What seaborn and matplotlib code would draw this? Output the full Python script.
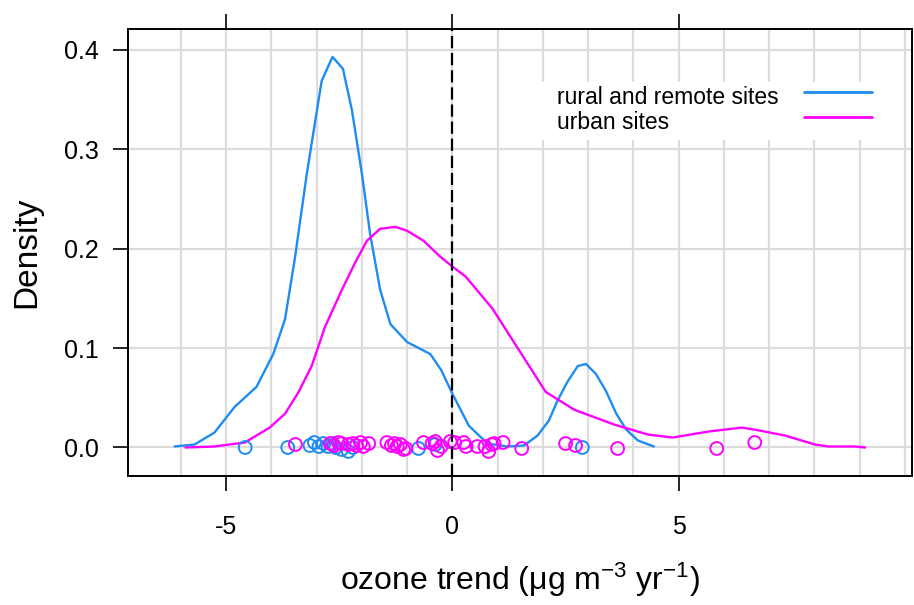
import matplotlib
matplotlib.use("Agg")
import matplotlib.pyplot as plt
from matplotlib.lines import Line2D
from matplotlib.patches import Rectangle
import pandas as pd
import seaborn as sns

# Kernel density estimates of the ozone trend (µg m-3 yr-1) for each site type
rural_x = [-6.14, -5.70, -5.26, -4.81, -4.33, -3.96, -3.70, -3.48, -3.22, -2.89,
           -2.65, -2.42, -2.22, -2.00, -1.82, -1.60, -1.37, -1.00, -0.49, -0.25,
           0.00, 0.36, 0.77, 1.21, 1.58, 1.88, 2.13, 2.32, 2.54, 2.77,
           2.95, 3.17, 3.39, 3.62, 3.84, 4.10, 4.45]
rural_density = [0.001, 0.003, 0.015, 0.041, 0.061, 0.094, 0.129, 0.191, 0.275, 0.369,
                 0.393, 0.381, 0.339, 0.275, 0.215, 0.159, 0.124, 0.106, 0.094, 0.078,
                 0.054, 0.022, 0.004, 0.001, 0.002, 0.012, 0.027, 0.047, 0.066, 0.082,
                 0.084, 0.074, 0.057, 0.034, 0.018, 0.007, 0.001]

urban_x = [-5.90, -5.26, -4.59, -4.04, -3.70, -3.41, -3.11, -2.82, -2.45, -2.15,
           -1.89, -1.60, -1.26, -1.00, -0.64, -0.27, 0.00, 0.29, 0.88, 1.47,
           2.06, 2.69, 3.58, 4.32, 4.87, 5.65, 6.39, 6.68, 7.35, 8.01,
           8.31, 8.90, 9.12]
urban_density = [0.000, 0.001, 0.005, 0.020, 0.034, 0.055, 0.082, 0.121, 0.158, 0.186,
                 0.208, 0.220, 0.222, 0.218, 0.208, 0.192, 0.182, 0.172, 0.140, 0.098,
                 0.056, 0.038, 0.023, 0.013, 0.010, 0.016, 0.020, 0.018, 0.012, 0.003,
                 0.001, 0.001, 0.000]

# Individual site trends, plotted near zero with a small vertical jitter
rural_sites = [-4.58, -3.64, -3.15, -3.05, -2.95, -2.85, -2.75, -2.65, -2.58, -2.45,
               -2.30, -2.20, -0.75, -0.38, 2.87]
rural_jitter = [0.000, 0.000, 0.002, 0.005, 0.001, 0.004, 0.001, 0.004, 0.000, -0.002,
                -0.004, 0.000, -0.001, 0.003, 0.000]

urban_sites = [-3.47, -2.70, -2.62, -2.52, -2.45, -2.30, -2.20, -2.12, -2.03, -1.97,
               -1.85, -1.45, -1.35, -1.28, -1.22, -1.15, -1.08, -1.03, -0.64, -0.45,
               -0.38, -0.33, -0.25, -0.05, 0.05, 0.25, 0.30, 0.55, 0.72, 0.80,
               0.87, 0.92, 1.12, 1.53, 2.50, 2.72, 3.65, 5.84, 6.68]
urban_jitter = [0.003, 0.004, 0.002, 0.005, 0.004, 0.003, 0.004, 0.002, 0.005, 0.001,
                0.004, 0.005, 0.002, 0.004, 0.001, 0.003, -0.002, -0.001, 0.005, 0.004,
                0.006, -0.003, 0.001, 0.006, 0.005, 0.005, 0.001, 0.001, 0.001, -0.004,
                0.003, 0.004, 0.005, -0.001, 0.004, 0.002, -0.001, -0.001, 0.005]

groups = ["rural and remote sites", "urban sites"]
colors = ["#1E8CF0", "#FF00FF"]

x_ticks = [-5, 0, 5]
y_ticks = [0.0, 0.1, 0.2, 0.3, 0.4]
y_tick_labels = ["0.0", "0.1", "0.2", "0.3", "0.4"]
x_label = "ozone trend (μg m$^{-3}$ yr$^{-1}$)"
y_label = "Density"

curves = pd.concat([
    pd.DataFrame({"trend": rural_x, "density": rural_density, "group": groups[0]}),
    pd.DataFrame({"trend": urban_x, "density": urban_density, "group": groups[1]}),
], ignore_index=True)
sites = pd.concat([
    pd.DataFrame({"trend": rural_sites, "jitter": rural_jitter, "group": groups[0]}),
    pd.DataFrame({"trend": urban_sites, "jitter": urban_jitter, "group": groups[1]}),
], ignore_index=True)

sns.set_style("white")
plt.rcParams["font.family"] = ["Liberation Sans", "DejaVu Sans"]
plt.rcParams["mathtext.fontset"] = "custom"
plt.rcParams["mathtext.rm"] = "Liberation Sans"
plt.rcParams["mathtext.it"] = "Liberation Sans:italic"
plt.rcParams["mathtext.default"] = "regular"
for key in ["text.color", "axes.labelcolor", "xtick.color", "ytick.color"]:
    plt.rcParams[key] = "black"

fig = plt.figure(figsize=(9.14, 6.05), dpi=100)
ax = fig.add_axes([0.1400, 0.2132, 0.8578, 0.7388])

# background grid at every integer trend and every 0.1 of density
ax.set_xticks(list(range(-6, 11)), minor=True)
ax.grid(True, which="both", axis="x", color="#DCDCDC", lw=1.6)
ax.grid(True, which="major", axis="y", color="#DCDCDC", lw=1.6)
ax.set_axisbelow(True)

for g, c in zip(groups, colors):
    sns.lineplot(data=curves[curves["group"] == g], x="trend", y="density",
                 color=c, lw=1.7, estimator=None, sort=False, ax=ax, zorder=3)
    sns.scatterplot(data=sites[sites["group"] == g], x="trend", y="jitter",
                    color=c, facecolor="none", edgecolor=c, s=85, linewidth=1.4,
                    ax=ax, zorder=4)

ax.axvline(0, color="black", lw=1.6, dashes=(5.5, 2.2), zorder=5)

ax.set_xlim(-7.171, 10.155)
ax.set_ylim(-0.0287, 0.421)
ax.set_xticks(x_ticks)
ax.set_xticklabels([str(t) for t in x_ticks])
ax.set_yticks(y_ticks)
ax.set_yticklabels(y_tick_labels)
ax.tick_params(which="major", axis="x", direction="out", length=11, width=1.2,
               top=True, bottom=True, labeltop=False, pad=17, labelsize=18)
ax.tick_params(which="major", axis="y", direction="out", length=11, width=1.2,
               left=True, right=False, pad=10, labelsize=18)
ax.tick_params(which="minor", length=0)
for s in ax.spines.values():
    s.set_color("black")
    s.set_linewidth(1.4)

ax.set_xlabel(x_label, fontsize=23, va="center")
ax.xaxis.set_label_coords(0.5, -0.233)
ax.set_ylabel(y_label, fontsize=24, va="center")
ax.yaxis.set_label_coords(-0.129, 0.5)

# key: white panel with left-aligned labels followed by line samples
ax.add_patch(Rectangle((0.519, 0.7517), 0.4466, 0.1297, transform=ax.transAxes,
                       facecolor="white", edgecolor="none", zorder=6))
key_rows = [0.8479, 0.7919]
key_lines = [0.859, 0.8031]
for g, c, ty, ly in zip(groups, colors, key_rows, key_lines):
    ax.text(0.5472, ty, g, transform=ax.transAxes, fontsize=16.5,
            ha="left", va="center", zorder=7)
    ax.add_line(Line2D([0.8622, 0.949], [ly, ly], transform=ax.transAxes,
                       color=c, lw=2.0, zorder=7))

fig.savefig("out.png", dpi=100)
